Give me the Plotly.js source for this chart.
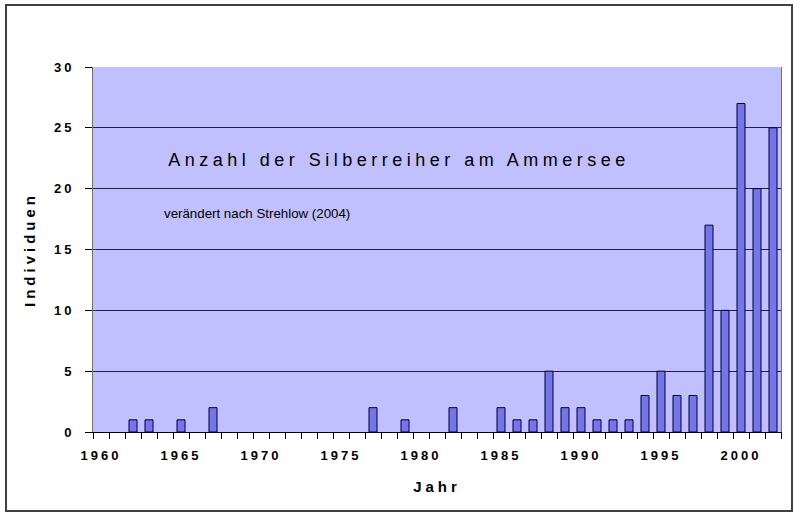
<!DOCTYPE html>
<html>
<head>
<meta charset="utf-8">
<script src="https://cdn.plot.ly/plotly-3.0.1.min.js"></script>
<style>
  html, body { margin: 0; padding: 0; background: #fff; }
  #chart { width: 800px; height: 516px; }
  .xtick text, .ytick text { letter-spacing: 3px; }
  .g-xtitle text, .g-ytitle text { letter-spacing: 4px; }
  g.annotation[data-index="0"] text { letter-spacing: 4.5px; }
</style>
</head>
<body>
<div id="chart"></div>
<script>
// Data
const years  = [1962, 1963, 1965, 1967, 1977, 1979, 1982, 1985, 1986, 1987, 1988, 1989, 1990,
                1991, 1992, 1993, 1994, 1995, 1996, 1997, 1998, 1999, 2000, 2001, 2002];
const counts = [1, 1, 1, 2, 2, 1, 2, 2, 1, 1, 5, 2, 2,
                1, 1, 1, 3, 5, 3, 3, 17, 10, 27, 20, 25];
const xTickVals = [1960, 1965, 1970, 1975, 1980, 1985, 1990, 1995, 2000];
const yTickVals = [0, 5, 10, 15, 20, 25, 30];
const firstYear = 1960, lastYear = 2002;

const titleText = "Anzahl der Silberreiher am Ammersee";
const noteText = "verändert nach Strehlow (2004)";

const trace = {
  type: "bar",
  x: years,
  y: counts,
  width: 0.5,
  marker: { color: "#7474f0", line: { color: "#000020", width: 1 } },
  hoverinfo: "x+y"
};

const layout = {
  width: 800, height: 516,
  margin: { l: 93, r: 19, t: 67, b: 84 },
  paper_bgcolor: "#ffffff",
  plot_bgcolor: "#c0c0ff",
  showlegend: false,
  font: { family: "Liberation Sans, Arial, sans-serif", color: "#000" },
  xaxis: {
    range: [firstYear - 0.5, lastYear + 0.5],
    tickmode: "array",
    tickvals: xTickVals,
    ticktext: xTickVals.map(String),
    ticks: "",
    showgrid: false,
    zeroline: false,
    showline: true, linecolor: "#000", linewidth: 1,
    tickfont: { size: 13, family: "Liberation Sans, Arial, sans-serif", weight: "bold" },
    ticklabelstandoff: 11,
    minor: { ticks: "outside", ticklen: 6, tickcolor: "#000", tick0: firstYear - 0.5, dtick: 1, showgrid: false },
    title: { text: "Jahr", font: { size: 15, weight: "bold" }, standoff: 19 }
  },
  yaxis: {
    range: [0, 30],
    tickmode: "array",
    tickvals: yTickVals,
    ticks: "outside", ticklen: 7, tickcolor: "#000",
    showgrid: true, gridcolor: "#202040", gridwidth: 1,
    zeroline: false,
    showline: true, linecolor: "#707070", linewidth: 1, mirror: true,
    tickfont: { size: 13, family: "Liberation Sans, Arial, sans-serif", weight: "bold" },
    ticklabelstandoff: 8,
    title: { text: "Individuen", font: { size: 15, weight: "bold" }, standoff: 14 }
  },
  annotations: [
    { text: titleText, xref: "paper", yref: "paper", x: 0.445, y: 0.745,
      xanchor: "center", yanchor: "middle", showarrow: false,
      font: { size: 18, color: "#000", family: "Liberation Sans, Arial, sans-serif" } },
    { text: noteText, xref: "paper", yref: "paper", x: 0.1, y: 0.6,
      xanchor: "left", yanchor: "middle", showarrow: false,
      font: { size: 13.3, color: "#000", family: "Liberation Sans, Arial, sans-serif" } }
  ],
  shapes: [
    { type: "rect", xref: "paper", yref: "paper",
      x0: -87/688, x1: 699/688, y0: -79/365, y1: 427/365,
      line: { color: "#404040", width: 2 }, fillcolor: "rgba(0,0,0,0)", layer: "below" }
  ],
  bargap: 0.5
};

Plotly.newPlot("chart", [trace], layout, { staticPlot: true, displayModeBar: false });
</script>
</body>
</html>
